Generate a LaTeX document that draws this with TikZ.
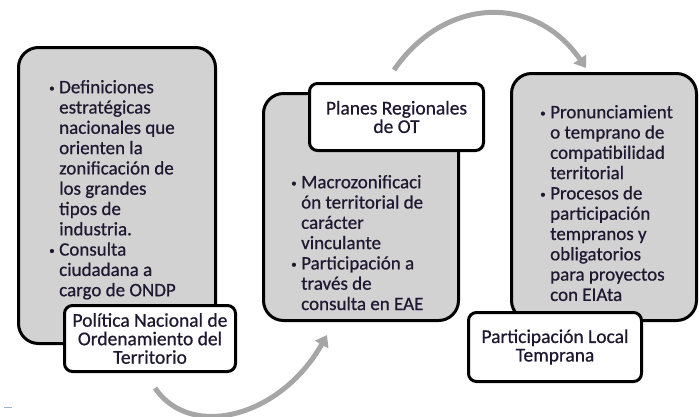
\documentclass[tikz,border=0pt]{standalone}
\usepackage{fontspec}
\setmainfont{Carlito}[FakeBold=0.6]
\usetikzlibrary{arrows.meta}
\definecolor{raya}{RGB}{157,179,204}
\definecolor{letra}{RGB}{30,24,48}
\newcommand{\vin}{\makebox[10pt][l]{\fontsize{11}{11}\selectfont\raisebox{1.5pt}{•}}}

\begin{document}
\begin{tikzpicture}[x=1pt,y=-1pt,
	caja/.style={draw,line width=3pt,fill=gray!35,rounded corners=20pt},
	etiqueta/.style={draw,line width=3pt,fill=white,rounded corners=8pt,
		align=center,text=letra,font=\fontsize{19.5}{18.5}\selectfont},
	lista/.style={inner sep=0pt,anchor=north west,text=letra,font=\fontsize{19}{20.3}\selectfont},
	flecha/.style={line width=5pt,black!35,-{Triangle[length=11pt,width=15pt]}}]

\useasboundingbox (0,0) rectangle (699,416);

\node[caja,minimum width=197pt,minimum height=296pt] (pol) at (117,195.5) {};
\node[caja,minimum width=195pt,minimum height=227pt] (reg) at (361,207) {};
\node[caja,minimum width=185pt,minimum height=247pt] (loc) at (604,197) {};

\node[lista] (polTxt) at (49,78.8) {\begin{tabular}{@{}l@{}l@{}}
	\vin & Definiciones\\ & estratégicas\\ & nacionales que\\ & orienten la\\
	& zonificación de\\ & los grandes\\ & tipos de\\ & industria.\\
	\vin & Consulta\\ & ciudadana a\\ & cargo de ONDP
\end{tabular}};
\node[lista] (regTxt) at (291,173.8) {\begin{tabular}{@{}l@{}l@{}}
	\vin & Macrozonificaci\\ & ón territorial de\\ & carácter\\ & vinculante\\
	\vin & Participación a\\ & través de\\ & consulta en EAE
\end{tabular}};
\node[lista] (locTxt) at (540,103.8) {\begin{tabular}{@{}l@{}l@{}}
	\vin & Pronunciamient\\ & o temprano de\\ & compatibilidad\\ & territorial\\
	\vin & Procesos de\\ & participación\\ & tempranos y\\ & obligatorios\\
	& para proyectos\\ & con EIAta
\end{tabular}};

\node[etiqueta,minimum width=171pt,minimum height=66pt] (polTit) at (150,338.5)
	{Política Nacional de\\Ordenamiento del\\Territorio};
\node[etiqueta,minimum width=174pt,minimum height=67pt] (regTit) at (396.5,117)
	{Planes Regionales\\de OT};
\node[etiqueta,minimum width=173pt,minimum height=69pt] (locTit) at (555,347)
	{Participación Local\\Temprana};

\draw[flecha] ([shift={(5,15)}]polTit.south) .. controls +(35,52) and +(-47,83)
	.. ([shift={(-34,13)}]reg.south);
\draw[flecha] ([shift={(-2.5,-12)}]regTit.north) .. controls +(51,-74) and +(-51,-74)
	.. ([shift={(-18,-4)}]loc.north);

\draw[raya,line width=1.5pt] (4,407.5) -- (12,407.5);

\end{tikzpicture}
\end{document}
